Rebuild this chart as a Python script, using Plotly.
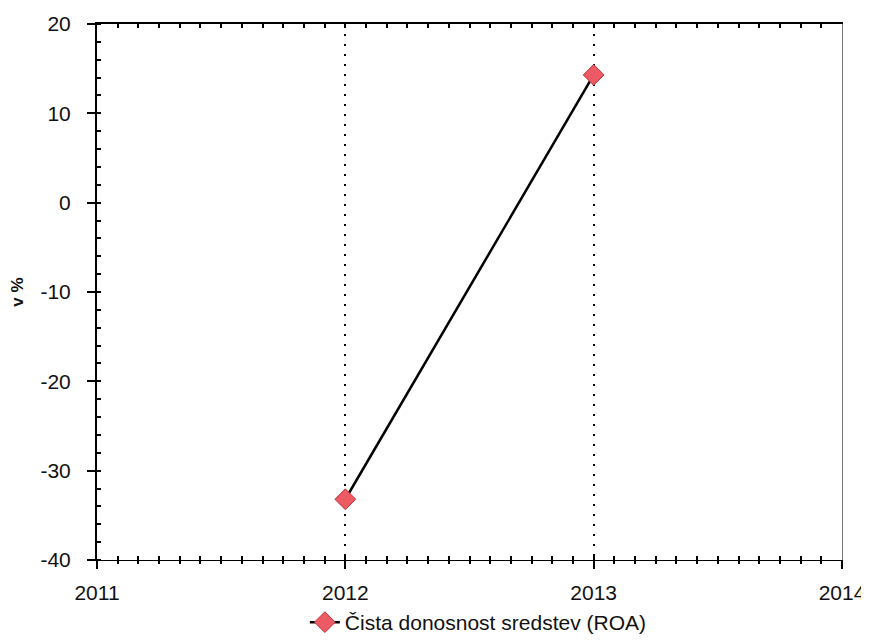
import plotly.graph_objects as go

years = [2012, 2013]
roa = [-33.2, 14.3]
x_ticks = [2011, 2012, 2013, 2014]
y_ticks = [-40, -30, -20, -10, 0, 10, 20]
series_name = "Čista donosnost sredstev (ROA)"
y_title = "v %"

FONT = "Liberation Sans, Arial, sans-serif"
xr = [2011, 2014]
yr = [-40, 20]

fig = go.Figure()
fig.add_trace(go.Scatter(
    x=years, y=roa, mode="lines+markers", name=series_name,
    line=dict(color="black", width=2.5),
    marker=dict(symbol="diamond", size=16, color="#ec5a63",
                line=dict(color="#c2323c", width=1)),
))
# invisible helpers so the overlay axes are drawn
for xa, ya in [("x2", "y"), ("x3", "y"), ("x", "y2")]:
    fig.add_trace(go.Scatter(x=xr, y=yr, xaxis=xa, yaxis=ya, mode="none",
                             showlegend=False, hoverinfo="skip"))

fig.update_layout(
    width=861, height=635,
    margin=dict(l=89, r=27, t=16, b=83),
    paper_bgcolor="white", plot_bgcolor="white",
    font=dict(family=FONT, size=21, color="#111"),
    showlegend=True,
    legend=dict(orientation="h", x=0.279, xanchor="left", yref="container",
                y=0.0, yanchor="bottom", bgcolor="rgba(0,0,0,0)",
                font=dict(size=21, color="#111")),
    xaxis=dict(range=xr, tickvals=x_ticks, ticktext=[str(v) for v in x_ticks],
               showgrid=True, gridcolor="black", griddash="2px,8px", gridwidth=1.5,
               zeroline=False, showline=True, linecolor="black", linewidth=1,
               ticks="outside", ticklen=8, tickwidth=2, tickcolor="black",
               ticklabelstandoff=6, automargin=False,
               minor=dict(dtick=1/12, ticks="outside", ticklen=3, tickwidth=2,
                          tickcolor="black", showgrid=False)),
    xaxis2=dict(range=xr, overlaying="x", side="bottom", anchor="y",
                showgrid=False, zeroline=False, showticklabels=False, automargin=False,
                tickvals=x_ticks, ticks="inside", ticklen=0,
                minor=dict(dtick=1/12, ticks="inside", ticklen=4, tickwidth=2,
                           tickcolor="black", showgrid=False)),
    xaxis3=dict(range=xr, overlaying="x", side="top", anchor="y",
                showgrid=False, zeroline=False, showticklabels=False, automargin=False,
                showline=True, linecolor="black", linewidth=2,
                tickvals=x_ticks, ticks="inside", ticklen=0,
                minor=dict(dtick=1/12, ticks="inside", ticklen=4, tickwidth=2,
                           tickcolor="black", showgrid=False)),
    yaxis=dict(range=yr, tickvals=y_ticks, ticktext=[str(v) for v in y_ticks],
               showgrid=False, zeroline=False,
               showline=True, linecolor="black", linewidth=2,
               ticks="outside", ticklen=8, tickwidth=2, tickcolor="black",
               ticklabelstandoff=12, automargin=False,
               minor=dict(dtick=2, ticks="inside", ticklen=4, tickwidth=2,
                          tickcolor="black", showgrid=False),
               title=dict(text="<b>" + y_title + "</b>", font=dict(size=17), standoff=18)),
    yaxis2=dict(range=yr, overlaying="y", side="right", anchor="x", automargin=False,
                showgrid=False, zeroline=False, showticklabels=False,
                showline=True, linecolor="#777", linewidth=1, ticks=""),
)

fig.write_html("out.html")
